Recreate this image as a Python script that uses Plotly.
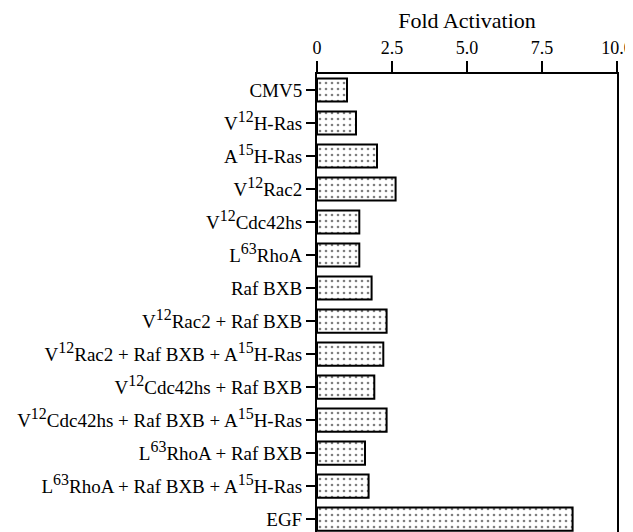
import plotly.graph_objects as go

labels = [
    "CMV5",
    "V<sup><span style='font-size:120%'>12</span></sup>H-Ras",
    "A<sup><span style='font-size:120%'>15</span></sup>H-Ras",
    "V<sup><span style='font-size:120%'>12</span></sup>Rac2",
    "V<sup><span style='font-size:120%'>12</span></sup>Cdc42hs",
    "L<sup><span style='font-size:120%'>63</span></sup>RhoA",
    "Raf BXB",
    "V<sup><span style='font-size:120%'>12</span></sup>Rac2 + Raf BXB",
    "V<sup><span style='font-size:120%'>12</span></sup>Rac2 + Raf BXB + A<sup><span style='font-size:120%'>15</span></sup>H-Ras",
    "V<sup><span style='font-size:120%'>12</span></sup>Cdc42hs + Raf BXB",
    "V<sup><span style='font-size:120%'>12</span></sup>Cdc42hs + Raf BXB + A<sup><span style='font-size:120%'>15</span></sup>H-Ras",
    "L<sup><span style='font-size:120%'>63</span></sup>RhoA + Raf BXB",
    "L<sup><span style='font-size:120%'>63</span></sup>RhoA + Raf BXB + A<sup><span style='font-size:120%'>15</span></sup>H-Ras",
    "EGF",
]
fold_activation = [1.0, 1.3, 2.0, 2.62, 1.41, 1.41, 1.82, 2.32, 2.21, 1.91, 2.32, 1.6, 1.72, 8.52]
x_ticks = [0, 2.5, 5, 7.5, 10]
x_ticktext = ["0", "2.5", "5.0", "7.5", "10.0"]

positions = list(range(len(labels)))

fig = go.Figure(
    go.Bar(
        x=fold_activation,
        y=positions,
        orientation="h",
        width=0.7,
        marker=dict(
            color="white",
            line=dict(color="black", width=2),
            pattern=dict(shape=".", fgcolor="black", bgcolor="white", size=6, solidity=0.15),
        ),
    )
)

font_family = "Liberation Serif, Times New Roman, serif"

# the page body has an 8px margin, so the figure is drawn 8px in and 8px down
fig.update_layout(
    width=625,
    height=524,
    margin=dict(l=309, r=16, t=66, b=0),
    paper_bgcolor="white",
    plot_bgcolor="white",
    showlegend=False,
    font=dict(family=font_family, color="black", size=18),
    xaxis=dict(
        side="top",
        range=[0, 10],
        tickvals=x_ticks,
        ticktext=x_ticktext,
        ticks="outside",
        ticklen=11,
        tickwidth=2,
        tickcolor="black",
        showline=True,
        linewidth=2,
        linecolor="black",
        showgrid=False,
        zeroline=False,
        automargin=False,
        ticklabeloverflow="allow",
        tickfont=dict(size=18),
        title=dict(text="Fold Activation", font=dict(size=22), standoff=5),
    ),
    yaxis=dict(
        range=[13.39, -0.485],
        tickvals=positions,
        ticktext=labels,
        ticks="outside",
        ticklen=9,
        tickwidth=2,
        tickcolor="black",
        showline=True,
        mirror=True,
        linewidth=2,
        linecolor="black",
        showgrid=False,
        zeroline=False,
        automargin=False,
        tickfont=dict(size=19),
    ),
)

fig.write_html("out.html")
